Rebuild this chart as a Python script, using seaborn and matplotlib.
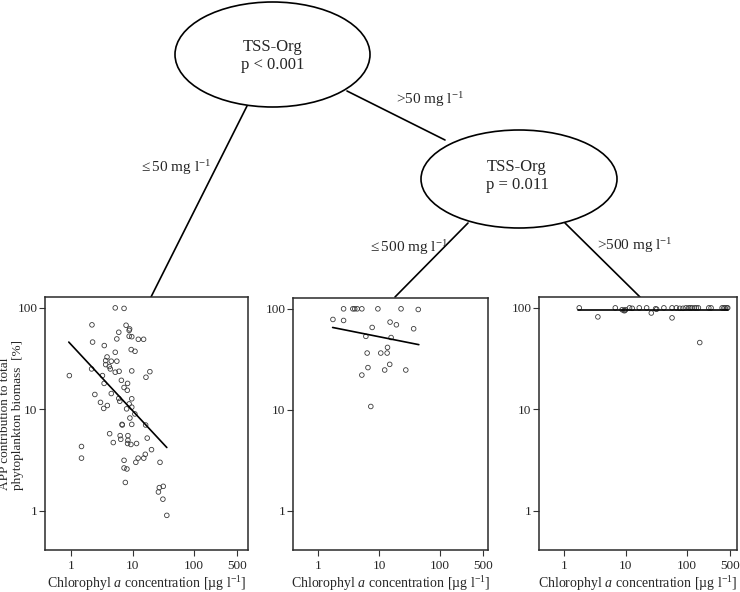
import numpy as np
import pandas as pd
import matplotlib
matplotlib.use("Agg")
import matplotlib.pyplot as plt
from matplotlib.patches import Ellipse
import seaborn as sns

# ---------------- data ----------------
p1_chl = [0.94, 1.48, 1.48, 2.19, 2.24, 2.16, 2.44, 3.01, 3.24, 3.45, 3.40, 3.47, 3.66, 3.66,
          3.85, 3.89, 4.19, 4.35, 4.51, 4.51, 4.24, 4.86, 5.23, 5.23, 5.23, 5.55, 5.55, 5.97,
          6.04, 5.97, 6.2, 6.28, 6.43, 6.58, 6.75, 6.8, 7.27, 7.27, 7.27, 7.27, 7.84, 8.0,
          7.63, 8.2, 8.3, 8.4, 8.3, 8.4, 8.1, 8.8, 8.95, 8.8, 8.8, 9.05, 9.5, 9.7, 9.7, 9.7,
          9.7, 9.4, 9.7, 10.95, 10.9, 11.3, 11.6, 12.3, 12.4, 15.1, 15.2, 16.1, 16.3, 16.5,
          17.3, 19.1, 20.3, 27.9, 26.3, 27.2, 31.5, 31.1, 36.0]
p1_app = [21.5, 4.3, 3.3, 68, 46, 25, 14, 11.7, 21.5, 18, 10.2, 42.5, 27.6, 30.2,
          32.8, 10.9, 26.4, 25, 29.8, 14.3, 5.75, 4.7, 100, 36.5, 23.2, 49.4, 29.8, 57.5,
          23.7, 12.8, 12, 5.5, 5.06, 19.3, 7.1, 7.0, 98.8, 16.4, 3.14, 2.64, 67.4, 10.1,
          1.9, 15.4, 18, 5.5, 4.6, 4.94, 2.58, 60, 62, 52.5, 11.3, 8.2, 38.8, 52, 23.9, 12.7,
          7.1, 4.5, 10.5, 37.3, 9.0, 3.0, 4.6, 3.3, 49, 49, 3.3, 3.6, 7.0, 20.7,
          5.2, 23.5, 4.0, 3.0, 1.53, 1.69, 1.74, 1.30, 0.90]

p2_chl = [1.76, 2.63, 2.63, 3.73, 4.0, 4.4, 5.24, 9.6, 23, 44, 7.73, 6.1, 6.4, 6.6, 5.24,
          7.35, 10.7, 13.8, 13.6, 15.2, 15.8, 19.3, 15.0, 12.4, 27.5, 37]
p2_app = [78.5, 100, 76.7, 100, 100, 100, 100, 100, 100, 98.5, 65.4, 53.4, 36.5, 26.2, 22.1,
          10.8, 36.5, 41.5, 36.5, 73.9, 52, 69.5, 28.2, 24.8, 24.8, 63.5]

p3_chl = [1.76, 3.54, 6.8, 8.8, 9.4, 9.7, 10.0, 11.6, 12.8, 16.7, 22, 26.2, 30.8, 32, 42,
          57, 57, 67, 76, 86, 96, 106, 113, 120, 132, 142, 153, 161, 226, 246, 372, 398,
          417, 444, 459]
p3_app = [100, 81.5, 100, 96, 94, 94, 96, 100, 99, 100, 100, 89, 98, 97, 100,
          100, 79.7, 100, 99, 99, 100, 100, 100, 100, 100, 100, 100, 45.5, 100, 100, 100, 100,
          100, 100, 100]

# fitted regression lines (end points)
fit1_chl = [0.92, 36]
fit1_app = [46, 4.2]
fit2_chl = [1.74, 45]
fit2_app = [65.4, 44.2]
fit3_chl = [1.7, 460]
fit3_app = [95, 95]

x_ticks = [1, 10, 100, 500]
x_tick_labels = ["1", "10", "100", "500"]
y_ticks = [1, 10, 100]
y_tick_labels = ["1", "10", "100"]

node_labels = ["TSS-Org\np < 0.001", "TSS-Org\np = 0.011"]
edge_labels = [r"$\leq$50 mg l$^{-1}$", r">50 mg l$^{-1}$",
               r"$\leq$500 mg l$^{-1}$", r">500 mg l$^{-1}$"]
x_label = r"Chlorophyl $\mathit{a}$ concentration [µg l$^{-1}$]"
y_label = "APP contribution to total\nphytoplankton biomass  [%]"

# ---------------- style ----------------
sns.set_style("white")
plt.rcParams['font.family'] = ['Liberation Serif', 'DejaVu Serif']
plt.rcParams['mathtext.fontset'] = 'custom'
plt.rcParams['mathtext.rm'] = 'Liberation Serif'
plt.rcParams['mathtext.it'] = 'Liberation Serif:italic'
plt.rcParams['mathtext.bf'] = 'Liberation Serif:bold'

W, H = 740, 592
fig = plt.figure(figsize=(W / 100, H / 100), dpi=100)


def box(l, r, t, b):
    return [l / W, 1 - b / H, (r - l) / W, (b - t) / H]


panels = [
    (box(45, 248, 297, 550), (0.378, 750), p1_chl, p1_app, fit1_chl, fit1_app),
    (box(293, 488, 298, 550), (0.39, 612), p2_chl, p2_app, fit2_chl, fit2_app),
    (box(539, 737, 297, 550), (0.39, 650), p3_chl, p3_app, fit3_chl, fit3_app),
]

for i, (pos, xlim, cx, cy, fx, fy) in enumerate(panels):
    ax = fig.add_axes(pos)
    df = pd.DataFrame({"chl": cx, "app": cy})
    sns.scatterplot(data=df, x="chl", y="app", ax=ax, marker="o", s=11,
                    facecolor="none", edgecolor="#3a3a3a", linewidth=0.6, zorder=3)
    dfl = pd.DataFrame({"chl": fx, "app": fy})
    sns.lineplot(data=dfl, x="chl", y="app", ax=ax, color="black", linewidth=1.2,
                 zorder=4, estimator=None, sort=False)
    ax.set_xscale("log")
    ax.set_yscale("log")
    ax.set_xlim(*xlim)
    ax.set_ylim(0.41, 128)
    ax.set_xticks(x_ticks)
    ax.set_xticklabels(x_tick_labels)
    ax.set_yticks(y_ticks)
    ax.set_yticklabels(y_tick_labels)
    ax.minorticks_off()
    ax.tick_params(axis="both", which="major", direction="out", length=4, width=0.8,
                   color="#333333", labelsize=9.5, pad=1.5, left=True, bottom=True)
    ax.tick_params(axis="x", pad=3)
    for sp in ax.spines.values():
        sp.set_visible(True)
        sp.set_color("#2a2a2a")
        sp.set_linewidth(1.1)
    ax.set_xlabel(x_label, fontsize=10, labelpad=2)
    ax.set_ylabel("")
    ax.grid(False)

fig.text(11.5 / W, 1 - 415 / H, y_label, rotation=90, ha="center", va="center",
         multialignment="left", fontsize=9.5, linespacing=1.05)

# ---------------- tree overlay ----------------
ov = fig.add_axes([0, 0, 1, 1], zorder=-1)
ov.set_xlim(0, W)
ov.set_ylim(H, 0)
ov.axis("off")

ov.add_patch(Ellipse((272.5, 54.5), 195, 105, facecolor="white", edgecolor="black", lw=1.2, zorder=3))
ov.add_patch(Ellipse((519, 179), 196, 98, facecolor="white", edgecolor="black", lw=1.2, zorder=3))
ov.text(273, 56, node_labels[0], ha="center", va="center", fontsize=12, linespacing=1.15, zorder=4)
ov.text(517, 176, node_labels[1], ha="center", va="center", fontsize=12, linespacing=1.15, zorder=4)

for (x0, y0, x1, y1) in [(247, 106, 151, 297), (347, 91, 445, 140),
                         (468, 223, 395, 297), (565, 223, 640, 297)]:
    ov.plot([x0, x1], [y0, y1], color="black", lw=1.2, zorder=2)

ov.text(175, 168, edge_labels[0], ha="center", va="center", fontsize=11)
ov.text(430, 100, edge_labels[1], ha="center", va="center", fontsize=11)
ov.text(408, 248, edge_labels[2], ha="center", va="center", fontsize=11)
ov.text(635, 246, edge_labels[3], ha="center", va="center", fontsize=11)

fig.savefig("out.png", dpi=100)
